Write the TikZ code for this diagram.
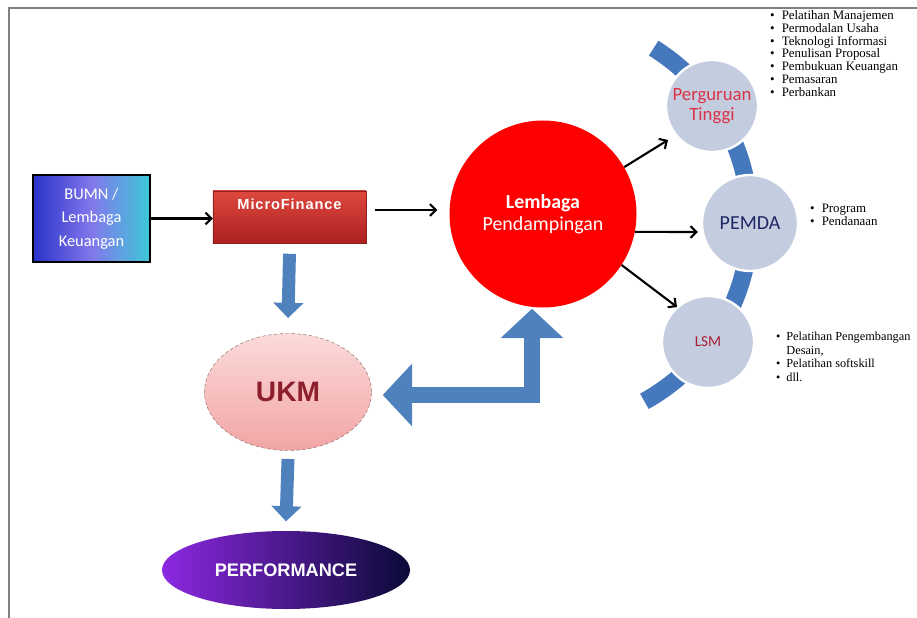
\documentclass[tikz,border=0pt]{standalone}
\usepackage{fontspec}
\setmainfont{Liberation Serif}
\setsansfont{Carlito}
\newfontfamily\widesans{Liberation Sans}
\usepackage{tikz}
\usetikzlibrary{arrows.meta,shapes.geometric,calc}

\definecolor{framegray}{RGB}{128,128,128}
\definecolor{blockblue}{RGB}{79,129,189}
\definecolor{ringblue}{RGB}{70,120,190}
\definecolor{bubblefill}{RGB}{196,204,224}
\definecolor{ptred}{RGB}{220,50,70}
\definecolor{pemdanavy}{RGB}{30,40,100}
\definecolor{lsmred}{RGB}{170,30,50}
\definecolor{ukmred}{RGB}{140,30,45}

\tikzset{
  thinarrow/.style={-{Straight Barb[length=5pt,width=10pt]},line width=1.8pt},
  blockarrow/.style={blockblue,line width=11pt,-{Triangle[width=25pt,length=13pt]}},
  bigblock/.style={blockblue,line width=13.6pt,
    {Triangle[width=52pt,length=25pt]}-{Triangle[width=52pt,length=25pt]}},
  bubble/.style={circle,fill=bubblefill,draw=white,line width=2pt,
    minimum size=2.76cm,inner sep=0pt,align=center,
    font=\sffamily\fontsize{16}{17}\selectfont},
  bullets/.style={anchor=north west,inner sep=0pt,
    font=\fontsize{11}{11}\selectfont},
}

\begin{document}
\begin{tikzpicture}[x=0.03cm,y=-0.03cm]
\useasboundingbox (0,0) rectangle (917,618);
\draw[framegray,line width=1.5pt] (9,618) -- (9,8) -- (917,8);

% ring behind the partners
\coordinate (hub) at (545,222);
\draw[ringblue,line width=15pt] ($(hub)+(58:6.15cm)$) arc (58:-61:6.15cm);

\node[draw=black,line width=1pt,minimum width=3.51cm,minimum height=2.61cm,
  left color={rgb,255:red,40;green,50;blue,200},
  right color={rgb,255:red,60;green,200;blue,215},
  middle color={rgb,255:red,130;green,120;blue,235},
  text=white,align=center,font=\sffamily\fontsize{14}{20}\selectfont]
  (bumn) at (91.5,218.5) {BUMN /\\Lembaga\\Keuangan};
\node[draw={rgb,255:red,140;green,30;blue,30},minimum width=4.59cm,minimum height=1.56cm,
  top color={rgb,255:red,222;green,72;blue,62},
  bottom color={rgb,255:red,172;green,32;blue,32},
  text=white,text depth=0.75cm,font=\widesans\bfseries\fontsize{12.5}{12.5}\selectfont]
  (mf) at (289.5,217) {\addfontfeature{LetterSpace=6}MicroFinance};
\node[circle,fill=red,minimum size=5.61cm,inner sep=0pt,text=white,align=center,
  font=\sffamily\fontsize{17}{19}\selectfont]
  (lem) at (543,214) {\textbf{Lembaga}\\Pendampingan};
\node[bubble,text=ptred] (pt) at (712,106) {Perguruan\\Tinggi};
\node[bubble,minimum size=2.88cm,text=pemdanavy,font=\sffamily\fontsize{17}{17}\selectfont]
  (pemda) at (750,223) {PEMDA};
\node[bubble,text=lsmred,font=\sffamily\fontsize{13}{13}\selectfont]
  (lsm) at (708,342) {LSM};
\node[ellipse,minimum width=5.01cm,minimum height=3.51cm,
  draw={rgb,255:red,150;green,110;blue,110},densely dashed,
  top color={rgb,255:red,252;green,218;blue,218},
  bottom color={rgb,255:red,242;green,165;blue,165},
  text=ukmred,font=\widesans\bfseries\fontsize{24}{24}\selectfont]
  (ukm) at (288,392) {UKM};
\node[ellipse,minimum width=7.44cm,minimum height=2.34cm,
  left color={rgb,255:red,140;green,40;blue,225},
  middle color={rgb,255:red,35;green,40;blue,200},
  right color={rgb,255:red,10;green,10;blue,55},
  text=white,font=\widesans\bfseries\fontsize{15.5}{15.5}\selectfont]
  (perf) at (286,570) {PERFORMANCE};

% lists beside the partners
\node[bullets] (ptlist) at (770,10) {\begin{tabular}{@{}l@{\hspace{6pt}}l@{}}
  \textbullet & Pelatihan Manajemen\\
  \textbullet & Permodalan Usaha\\
  \textbullet & Teknologi Informasi\\
  \textbullet & Penulisan Proposal\\
  \textbullet & Pembukuan Keuangan\\
  \textbullet & Pemasaran\\
  \textbullet & Perbankan
\end{tabular}};
\node[bullets] (pemdalist) at (810,203) {\begin{tabular}{@{}l@{\hspace{6pt}}l@{}}
  \textbullet & Program\\
  \textbullet & Pendanaan
\end{tabular}};
\node[bullets,font=\fontsize{10.5}{11.5}\selectfont] (lsmlist) at (776,331)
  {\begin{tabular}{@{}l@{\hspace{5pt}}l@{}}
  \textbullet & Pelatihan Pengembangan\\
              & Desain,\\
  \textbullet & Pelatihan softskill\\
  \textbullet & dll.
\end{tabular}};

% connectors
\draw[thinarrow] (bumn.east) -- (bumn.east -| mf.west);
\draw[thinarrow] ([shift={(9,-7)}]mf.east) -- ([shift={(-12,-4)}]lem.west);
\draw[thinarrow] (lem.30) -- ([shift={(-44,34)}]pt.center);
\draw[thinarrow] (lem.-11) -- ([shift={(-3,9)}]pemda.west);
\draw[thinarrow] (lem.-33) -- ([shift={(-31,-35)}]lsm.center);
\draw[blockarrow] ([yshift=-9]mf.south) -- ([yshift=13]ukm.north);
\draw[blockarrow] ([yshift=-7]ukm.south) -- ([yshift=8]perf.north);
\draw[bigblock] ([shift={(11,3)}]ukm.east) -| ([shift={(-11,1)}]lem.south);
\end{tikzpicture}
\end{document}
